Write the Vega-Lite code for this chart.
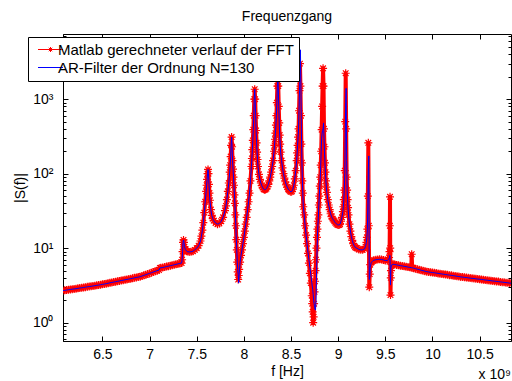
{
"$schema": "https://vega.github.io/schema/vega-lite/v6.json",
"width": 448,
"height": 307,
"autosize": {"type": "none"},
"padding": {"left": 63, "top": 34, "right": 1, "bottom": 40},
"background": "white",
"config": {
  "view": {"stroke": "#000000", "strokeWidth": 1},
  "font": "Liberation Sans",
  "axis": {"labelFont": "Liberation Sans", "labelFontSize": 14, "labelColor": "#000000", "titleFont": "Liberation Sans", "titleFontSize": 14, "titleFontWeight": "normal", "titleColor": "#000000", "tickColor": "#000000", "domainColor": "#000000", "grid": false}
},
"title": {"text": "Frequenzgang", "fontSize": 14, "fontWeight": "normal", "color": "#000000", "font": "Liberation Sans", "offset": 10},
"data": {"values": [
{"f":6.08,"s":2.69,"a":2.69},{"f":6.10,"s":2.72,"a":2.72},{"f":6.12,"s":2.74,"a":2.74},{"f":6.14,"s":2.77,"a":2.77},{"f":6.16,"s":2.79,"a":2.79},{"f":6.18,"s":2.82,"a":2.82},{"f":6.20,"s":2.84,"a":2.84},{"f":6.22,"s":2.86,"a":2.86},{"f":6.24,"s":2.89,"a":2.89},{"f":6.26,"s":2.92,"a":2.92},
{"f":6.28,"s":2.94,"a":2.94},{"f":6.30,"s":2.97,"a":2.97},{"f":6.32,"s":3.00,"a":3.00},{"f":6.34,"s":3.03,"a":3.03},{"f":6.36,"s":3.05,"a":3.05},{"f":6.38,"s":3.08,"a":3.08},{"f":6.40,"s":3.11,"a":3.11},{"f":6.42,"s":3.14,"a":3.14},{"f":6.44,"s":3.17,"a":3.17},{"f":6.46,"s":3.20,"a":3.20},
{"f":6.48,"s":3.23,"a":3.23},{"f":6.50,"s":3.27,"a":3.27},{"f":6.52,"s":3.30,"a":3.30},{"f":6.54,"s":3.34,"a":3.34},{"f":6.56,"s":3.38,"a":3.38},{"f":6.58,"s":3.43,"a":3.43},{"f":6.60,"s":3.47,"a":3.47},{"f":6.62,"s":3.51,"a":3.51},{"f":6.64,"s":3.55,"a":3.55},{"f":6.66,"s":3.59,"a":3.59},
{"f":6.68,"s":3.63,"a":3.63},{"f":6.70,"s":3.68,"a":3.68},{"f":6.72,"s":3.72,"a":3.72},{"f":6.74,"s":3.77,"a":3.77},{"f":6.76,"s":3.81,"a":3.81},{"f":6.78,"s":3.85,"a":3.85},{"f":6.80,"s":3.90,"a":3.90},{"f":6.82,"s":3.95,"a":3.95},{"f":6.84,"s":4.00,"a":4.00},{"f":6.86,"s":4.05,"a":4.05},
{"f":6.88,"s":4.09,"a":4.09},{"f":6.90,"s":4.14,"a":4.14},{"f":6.92,"s":4.23,"a":4.23},{"f":6.94,"s":4.32,"a":4.32},{"f":6.96,"s":4.41,"a":4.41},{"f":6.98,"s":4.50,"a":4.50},{"f":7.00,"s":4.59,"a":4.59},{"f":7.02,"s":4.69,"a":4.69},{"f":7.04,"s":4.79,"a":4.79},{"f":7.06,"s":4.89,"a":4.89},
{"f":7.08,"s":4.99,"a":4.99},{"f":7.10,"s":5.09,"a":5.09},{"f":7.11,"s":5.43,"a":5.43},{"f":7.12,"s":5.45,"a":5.45},{"f":7.14,"s":5.51,"a":5.51},{"f":7.16,"s":5.58,"a":5.58},{"f":7.18,"s":5.66,"a":5.66},{"f":7.20,"s":5.74,"a":5.74},{"f":7.22,"s":5.82,"a":5.82},{"f":7.24,"s":5.90,"a":5.90},
{"f":7.26,"s":5.98,"a":5.98},{"f":7.28,"s":6.07,"a":6.07},{"f":7.30,"s":6.15,"a":6.15},{"f":7.32,"s":6.24,"a":6.24},{"f":7.34,"s":6.31,"a":6.31},{"f":7.345,"s":7.0,"a":7.0},{"f":7.35,"s":9.0,"a":9.0},{"f":7.355,"s":12.0,"a":12.0},{"f":7.36,"s":12.9,"a":12.9},{"f":7.365,"s":12.0,"a":12.0},
{"f":7.37,"s":10.5,"a":10.5},{"f":7.38,"s":9.6,"a":9.6},{"f":7.39,"s":9.2,"a":9.2},{"f":7.40,"s":9.0,"a":9.0},{"f":7.42,"s":8.9,"a":8.9},{"f":7.44,"s":8.95,"a":8.95},{"f":7.46,"s":9.1,"a":9.1},{"f":7.48,"s":9.5,"a":9.5},{"f":7.50,"s":10.0,"a":10.0},{"f":7.52,"s":10.8,"a":10.8},
{"f":7.54,"s":12.5,"a":12.5},{"f":7.55,"s":14.5,"a":14.5},{"f":7.56,"s":17.5,"a":17.5},{"f":7.57,"s":22,"a":22},{"f":7.58,"s":30,"a":30},{"f":7.59,"s":42,"a":42},{"f":7.60,"s":58,"a":58},{"f":7.605,"s":70,"a":70},{"f":7.61,"s":84,"a":84},{"f":7.615,"s":100,"a":100},
{"f":7.62,"s":114,"a":114},{"f":7.625,"s":100,"a":100},{"f":7.63,"s":72,"a":72},{"f":7.635,"s":55,"a":55},{"f":7.64,"s":44,"a":44},{"f":7.65,"s":33,"a":33},{"f":7.66,"s":27.5,"a":27.5},{"f":7.67,"s":25,"a":25},{"f":7.68,"s":23.5,"a":23.5},{"f":7.70,"s":21.8,"a":21.8},
{"f":7.72,"s":21,"a":21},{"f":7.74,"s":21.5,"a":21.5},{"f":7.76,"s":23,"a":23},{"f":7.78,"s":26,"a":26},{"f":7.80,"s":32,"a":32},{"f":7.81,"s":37,"a":37},{"f":7.82,"s":45,"a":45},{"f":7.83,"s":58,"a":58},{"f":7.84,"s":75,"a":75},{"f":7.85,"s":105,"a":105},
{"f":7.855,"s":130,"a":130},{"f":7.86,"s":170,"a":170},{"f":7.865,"s":240,"a":240},{"f":7.87,"s":310,"a":310},{"f":7.875,"s":230,"a":230},{"f":7.88,"s":150,"a":150},{"f":7.885,"s":115,"a":115},{"f":7.89,"s":90,"a":90},{"f":7.895,"s":70,"a":70},{"f":7.90,"s":52,"a":52},
{"f":7.905,"s":40,"a":40},{"f":7.91,"s":28,"a":28},{"f":7.915,"s":20,"a":20},{"f":7.92,"s":13,"a":13},{"f":7.925,"s":9.5,"a":9.5},{"f":7.93,"s":6.5,"a":6.5},{"f":7.935,"s":4.8,"a":5.2},{"f":7.94,"s":3.8,"a":4.4},{"f":7.945,"s":4.3,"a":3.4},{"f":7.95,"s":5.2,"a":4.5},
{"f":7.96,"s":6.5,"a":6.5},{"f":7.97,"s":8.0,"a":8.0},{"f":7.98,"s":9.5,"a":9.5},{"f":7.99,"s":11.5,"a":11.5},{"f":8.00,"s":14,"a":14},{"f":8.01,"s":17,"a":17},{"f":8.02,"s":21,"a":21},{"f":8.03,"s":26,"a":26},{"f":8.04,"s":33,"a":33},{"f":8.05,"s":42,"a":42},
{"f":8.06,"s":55,"a":55},{"f":8.07,"s":80,"a":80},{"f":8.08,"s":125,"a":125},{"f":8.085,"s":160,"a":160},{"f":8.09,"s":210,"a":210},{"f":8.095,"s":280,"a":280},{"f":8.10,"s":390,"a":390},{"f":8.105,"s":600,"a":600},{"f":8.11,"s":1000,"a":1000},{"f":8.115,"s":1360,"a":1360},
{"f":8.12,"s":1000,"a":1000},{"f":8.125,"s":600,"a":600},{"f":8.13,"s":380,"a":380},{"f":8.135,"s":260,"a":260},{"f":8.14,"s":195,"a":195},{"f":8.145,"s":155,"a":155},{"f":8.15,"s":125,"a":125},{"f":8.16,"s":98,"a":98},{"f":8.17,"s":84,"a":84},{"f":8.18,"s":75,"a":75},
{"f":8.19,"s":69,"a":69},{"f":8.20,"s":65,"a":65},{"f":8.21,"s":62,"a":62},{"f":8.22,"s":61,"a":61},{"f":8.23,"s":61.5,"a":61.5},{"f":8.24,"s":63,"a":63},{"f":8.25,"s":67,"a":67},{"f":8.26,"s":72,"a":72},{"f":8.27,"s":80,"a":80},{"f":8.28,"s":90,"a":90},
{"f":8.29,"s":105,"a":105},{"f":8.30,"s":125,"a":125},{"f":8.31,"s":150,"a":150},{"f":8.32,"s":200,"a":200},{"f":8.325,"s":240,"a":240},{"f":8.33,"s":290,"a":290},{"f":8.335,"s":350,"a":350},{"f":8.34,"s":450,"a":450},{"f":8.345,"s":600,"a":600},{"f":8.35,"s":900,"a":900},
{"f":8.355,"s":1500,"a":1500},{"f":8.36,"s":2200,"a":2200},{"f":8.365,"s":1500,"a":1500},{"f":8.37,"s":800,"a":800},{"f":8.375,"s":480,"a":480},{"f":8.38,"s":330,"a":330},{"f":8.385,"s":250,"a":250},{"f":8.39,"s":195,"a":195},{"f":8.40,"s":150,"a":150},{"f":8.41,"s":120,"a":120},
{"f":8.42,"s":100,"a":100},{"f":8.43,"s":87,"a":87},{"f":8.44,"s":78,"a":78},{"f":8.45,"s":71,"a":71},{"f":8.46,"s":66,"a":66},{"f":8.47,"s":62,"a":62},{"f":8.48,"s":60,"a":60},{"f":8.49,"s":58,"a":58},{"f":8.50,"s":57,"a":57},{"f":8.51,"s":58,"a":58},
{"f":8.52,"s":62,"a":62},{"f":8.53,"s":70,"a":70},{"f":8.54,"s":85,"a":85},{"f":8.55,"s":110,"a":110},{"f":8.56,"s":150,"a":150},{"f":8.565,"s":190,"a":190},{"f":8.57,"s":240,"a":240},{"f":8.575,"s":310,"a":310},{"f":8.58,"s":400,"a":400},{"f":8.585,"s":700,"a":700},
{"f":8.59,"s":1300,"a":1300},{"f":8.595,"s":3000,"a":2200},{"f":8.60,"s":1500,"a":4600},{"f":8.605,"s":600,"a":1500},{"f":8.61,"s":250,"a":400},{"f":8.615,"s":140,"a":160},{"f":8.62,"s":80,"a":85},{"f":8.625,"s":55,"a":55},{"f":8.63,"s":36,"a":36},{"f":8.64,"s":28,"a":28},
{"f":8.65,"s":20,"a":20},{"f":8.66,"s":15,"a":15},{"f":8.67,"s":11.5,"a":11.5},{"f":8.68,"s":8.5,"a":8.8},{"f":8.69,"s":6.3,"a":7.0},{"f":8.70,"s":4.6,"a":5.5},{"f":8.71,"s":3.4,"a":4.4},{"f":8.72,"s":2.3,"a":3.5},{"f":8.725,"s":1.8,"a":3.1},{"f":8.73,"s":1.4,"a":2.8},
{"f":8.735,"s":1.0,"a":2.4},{"f":8.74,"s":1.2,"a":2.0},{"f":8.745,"s":1.8,"a":1.8},{"f":8.75,"s":2.6,"a":1.6},{"f":8.755,"s":3.6,"a":1.5},{"f":8.76,"s":5.0,"a":1.48},{"f":8.765,"s":7.0,"a":2.0},{"f":8.77,"s":10,"a":4},{"f":8.775,"s":14,"a":8},{"f":8.78,"s":18,"a":14},
{"f":8.785,"s":23,"a":20},{"f":8.79,"s":28,"a":26},{"f":8.795,"s":38,"a":38},{"f":8.80,"s":50,"a":50},{"f":8.805,"s":68,"a":68},{"f":8.81,"s":90,"a":90},{"f":8.815,"s":130,"a":130},{"f":8.82,"s":200,"a":200},{"f":8.825,"s":390,"a":300},{"f":8.83,"s":800,"a":350},
{"f":8.835,"s":1500,"a":380},{"f":8.84,"s":2600,"a":400},{"f":8.845,"s":1500,"a":480},{"f":8.85,"s":400,"a":300},{"f":8.855,"s":230,"a":200},{"f":8.86,"s":140,"a":140},{"f":8.865,"s":105,"a":105},{"f":8.87,"s":80,"a":80},{"f":8.875,"s":66,"a":66},{"f":8.88,"s":56,"a":56},
{"f":8.89,"s":45,"a":45},{"f":8.90,"s":38,"a":38},{"f":8.91,"s":33,"a":33},{"f":8.92,"s":29,"a":29},{"f":8.93,"s":26.5,"a":26.5},{"f":8.94,"s":25,"a":25},{"f":8.95,"s":24,"a":24},{"f":8.96,"s":23,"a":23},{"f":8.97,"s":22,"a":22},{"f":8.98,"s":21.3,"a":21.3},
{"f":8.99,"s":20.8,"a":20.8},{"f":9.00,"s":20.5,"a":20.5},{"f":9.01,"s":20.5,"a":20.5},{"f":9.02,"s":21,"a":21},{"f":9.03,"s":23,"a":23},{"f":9.04,"s":26,"a":26},{"f":9.05,"s":31,"a":31},{"f":9.055,"s":36,"a":36},{"f":9.06,"s":45,"a":45},{"f":9.065,"s":60,"a":60},
{"f":9.07,"s":110,"a":100},{"f":9.075,"s":500,"a":300},{"f":9.08,"s":2230,"a":900},{"f":9.085,"s":400,"a":1400},{"f":9.09,"s":90,"a":150},{"f":9.095,"s":60,"a":60},{"f":9.10,"s":45,"a":45},{"f":9.105,"s":35,"a":35},{"f":9.11,"s":28,"a":28},{"f":9.12,"s":21,"a":21},
{"f":9.13,"s":17,"a":17},{"f":9.14,"s":14.3,"a":14.3},{"f":9.15,"s":12.7,"a":12.7},{"f":9.16,"s":11.5,"a":11.5},{"f":9.17,"s":10.8,"a":10.8},{"f":9.18,"s":10.3,"a":10.3},{"f":9.19,"s":10.1,"a":10.1},{"f":9.20,"s":10,"a":10},{"f":9.22,"s":9.6,"a":9.6},{"f":9.24,"s":9.5,"a":9.5},
{"f":9.26,"s":9.5,"a":9.5},{"f":9.28,"s":9.8,"a":9.8},{"f":9.29,"s":10.5,"a":10.5},{"f":9.30,"s":12,"a":12},{"f":9.305,"s":14,"a":14},{"f":9.31,"s":18,"a":18},{"f":9.315,"s":50,"a":40},{"f":9.32,"s":260,"a":120},{"f":9.325,"s":20,"a":173},{"f":9.33,"s":3.0,"a":3.8},
{"f":9.335,"s":4.5,"a":4.0},{"f":9.34,"s":6.0,"a":5.5},{"f":9.35,"s":6.4,"a":6.4},{"f":9.36,"s":6.6,"a":6.6},{"f":9.37,"s":6.8,"a":6.8},{"f":9.38,"s":6.9,"a":6.9},{"f":9.40,"s":7.0,"a":7.0},{"f":9.42,"s":7.05,"a":7.05},{"f":9.44,"s":7.1,"a":7.1},{"f":9.46,"s":7.05,"a":7.05},
{"f":9.48,"s":6.95,"a":6.95},{"f":9.50,"s":6.85,"a":6.85},{"f":9.52,"s":6.8,"a":6.8},{"f":9.53,"s":7.0,"a":7.0},{"f":9.54,"s":7.5,"a":7.3},{"f":9.545,"s":9,"a":7.5},{"f":9.548,"s":20,"a":8},{"f":9.55,"s":49,"a":7},{"f":9.552,"s":10,"a":5},{"f":9.555,"s":2.35,"a":3.2},
{"f":9.558,"s":4.0,"a":4.5},{"f":9.56,"s":5.0,"a":5.6},{"f":9.57,"s":6.0,"a":6.0},{"f":9.58,"s":6.08,"a":6.08},{"f":9.59,"s":6.06,"a":6.06},{"f":9.60,"s":6.04,"a":6.04},{"f":9.62,"s":5.97,"a":5.97},{"f":9.64,"s":5.90,"a":5.90},{"f":9.66,"s":5.83,"a":5.83},{"f":9.68,"s":5.78,"a":5.78},
{"f":9.70,"s":5.71,"a":5.71},{"f":9.72,"s":5.65,"a":5.65},{"f":9.74,"s":5.58,"a":5.58},{"f":9.76,"s":5.53,"a":5.53},{"f":9.775,"s":5.49,"a":5.49},{"f":9.78,"s":8.3,"a":5.47},{"f":9.785,"s":5.45,"a":5.45},{"f":9.80,"s":5.40,"a":5.40},{"f":9.82,"s":5.31,"a":5.31},{"f":9.84,"s":5.22,"a":5.22},
{"f":9.86,"s":5.15,"a":5.15},{"f":9.88,"s":5.07,"a":5.07},{"f":9.90,"s":4.99,"a":4.99},{"f":9.92,"s":4.92,"a":4.92},{"f":9.94,"s":4.84,"a":4.84},{"f":9.96,"s":4.80,"a":4.80},{"f":9.98,"s":4.75,"a":4.75},{"f":10.00,"s":4.71,"a":4.71},{"f":10.02,"s":4.68,"a":4.68},{"f":10.04,"s":4.63,"a":4.63},
{"f":10.06,"s":4.59,"a":4.59},{"f":10.08,"s":4.55,"a":4.55},{"f":10.10,"s":4.51,"a":4.51},{"f":10.12,"s":4.47,"a":4.47},{"f":10.14,"s":4.43,"a":4.43},{"f":10.16,"s":4.39,"a":4.39},{"f":10.18,"s":4.35,"a":4.35},{"f":10.20,"s":4.32,"a":4.32},{"f":10.22,"s":4.28,"a":4.28},{"f":10.24,"s":4.24,"a":4.24},
{"f":10.26,"s":4.20,"a":4.20},{"f":10.28,"s":4.16,"a":4.16},{"f":10.30,"s":4.12,"a":4.12},{"f":10.32,"s":4.09,"a":4.09},{"f":10.34,"s":4.06,"a":4.06},{"f":10.36,"s":4.04,"a":4.04},{"f":10.38,"s":4.00,"a":4.00},{"f":10.40,"s":3.97,"a":3.97},{"f":10.42,"s":3.94,"a":3.94},{"f":10.44,"s":3.92,"a":3.92},
{"f":10.46,"s":3.88,"a":3.88},{"f":10.48,"s":3.85,"a":3.85},{"f":10.50,"s":3.83,"a":3.83},{"f":10.52,"s":3.80,"a":3.80},{"f":10.54,"s":3.78,"a":3.78},{"f":10.56,"s":3.74,"a":3.74},{"f":10.58,"s":3.72,"a":3.72},{"f":10.60,"s":3.69,"a":3.69},{"f":10.62,"s":3.66,"a":3.66},{"f":10.64,"s":3.63,"a":3.63},
{"f":10.66,"s":3.61,"a":3.61},{"f":10.68,"s":3.58,"a":3.58},{"f":10.70,"s":3.56,"a":3.56},{"f":10.72,"s":3.53,"a":3.53},{"f":10.74,"s":3.50,"a":3.50},{"f":10.76,"s":3.48,"a":3.48},{"f":10.78,"s":3.45,"a":3.45},{"f":10.80,"s":3.43,"a":3.43},{"f":10.82,"s":3.40,"a":3.40},{"f":10.84,"s":3.38,"a":3.38}
]},
"layer": [
  {
    "mark": {"type": "line", "strokeWidth": 4, "strokeJoin": "round", "clip": true},
    "encoding": {
      "x": {"field": "f", "type": "quantitative", "scale": {"domain": [6.082, 10.833], "nice": false, "zero": false},
        "axis": {"orient": "bottom", "values": [6.5,7,7.5,8,8.5,9,9.5,10,10.5], "labelExpr": "'' + datum.value", "tickSize": -5, "labelPadding": 11, "title": "f [Hz]", "titlePadding": 3, "labelFlush": false}},
      "y": {"field": "s", "type": "quantitative", "scale": {"type": "log", "domain": [0.568, 7500], "nice": false},
        "axis": {"orient": "left", "values": [0.6,0.7,0.8,0.9,1,2,3,4,5,6,7,8,9,10,20,30,40,50,60,70,80,90,100,200,300,400,500,600,700,800,900,1000,2000,3000,4000,5000,6000,7000],
          "labelExpr": "datum.value == 1 ? '10⁰' : datum.value == 10 ? '10¹' : datum.value == 100 ? '10²' : datum.value == 1000 ? '10³' : ''",
          "tickSize": {"condition": {"test": "indexof([1,10,100,1000], datum.value) >= 0", "value": -5}, "value": -3},
          "labelPadding": 15, "title": "|S(f)|", "titlePadding": 5, "labelFlush": false}},
      "color": {"datum": "Matlab gerechneter verlauf der FFT", "type": "nominal",
        "scale": {"domain": ["Matlab gerechneter verlauf der FFT", "AR-Filter der Ordnung N=130"], "range": ["#ff0000", "#0000ff"]},
        "legend": {"orient": "none", "legendX": -35, "legendY": 3, "title": null, "strokeColor": "#000000", "fillColor": "#ffffff", "padding": 5, "cornerRadius": 0,
          "labelFontSize": 15, "labelFont": "Liberation Sans", "labelColor": "#000000", "labelLimit": 400, "symbolSize": 100, "symbolOffset": 10, "labelOffset": 0, "rowPadding": 2, "symbolStrokeWidth": 1,
          "encoding": {"symbols": {
            "shape": {"condition": {"test": "datum.value === 'AR-Filter der Ordnung N=130'", "value": "M-2.5,0H2.5"}, "value": "M-2.5,0H2.5M0,-0.5V0.5M-0.5,0H0.5M-0.35,-0.35L0.35,0.35M-0.35,0.35L0.35,-0.35"},
            "fill": {"value": "transparent"}}}}}
    }
  },
  {
    "mark": {"type": "point", "shape": "M0,-1V1M-1,0H1M-0.7,-0.7L0.7,0.7M-0.7,0.7L0.7,-0.7", "filled": false, "size": 64, "strokeWidth": 1.2, "opacity": 1, "clip": true},
    "encoding": {
      "x": {"field": "f", "type": "quantitative", "scale": {"domain": [6.082, 10.833], "nice": false, "zero": false}, "axis": null},
      "y": {"field": "s", "type": "quantitative", "scale": {"type": "log", "domain": [0.568, 7500], "nice": false}, "axis": null},
      "color": {"datum": "Matlab gerechneter verlauf der FFT", "type": "nominal"}
    }
  },
  {
    "mark": {"type": "line", "strokeWidth": 1, "clip": true},
    "encoding": {
      "x": {"field": "f", "type": "quantitative", "scale": {"domain": [6.082, 10.833], "nice": false, "zero": false},
        "axis": {"orient": "top", "values": [6.5,7,7.5,8,8.5,9,9.5,10,10.5], "labels": false, "tickSize": -5, "domain": false, "title": null}},
      "y": {"field": "a", "type": "quantitative", "scale": {"type": "log", "domain": [0.568, 7500], "nice": false},
        "axis": {"orient": "right", "values": [0.6,0.7,0.8,0.9,1,2,3,4,5,6,7,8,9,10,20,30,40,50,60,70,80,90,100,200,300,400,500,600,700,800,900,1000,2000,3000,4000,5000,6000,7000],
          "labels": false, "domain": false, "title": null,
          "tickSize": {"condition": {"test": "indexof([1,10,100,1000], datum.value) >= 0", "value": -5}, "value": -3}}},
      "color": {"datum": "AR-Filter der Ordnung N=130", "type": "nominal"}
    }
  },
  {
    "data": {"values": [{"t": "x 10⁹"}]},
    "mark": {"type": "text", "align": "right", "baseline": "alphabetic", "dy": 38, "fontSize": 14, "font": "Liberation Sans", "color": "#000000"},
    "encoding": {
      "x": {"datum": 10.833, "type": "quantitative", "axis": null},
      "y": {"datum": 0.568, "type": "quantitative", "axis": null},
      "text": {"field": "t"}
    }
  }
],
"resolve": {"axis": {"x": "independent", "y": "independent"}}
}
